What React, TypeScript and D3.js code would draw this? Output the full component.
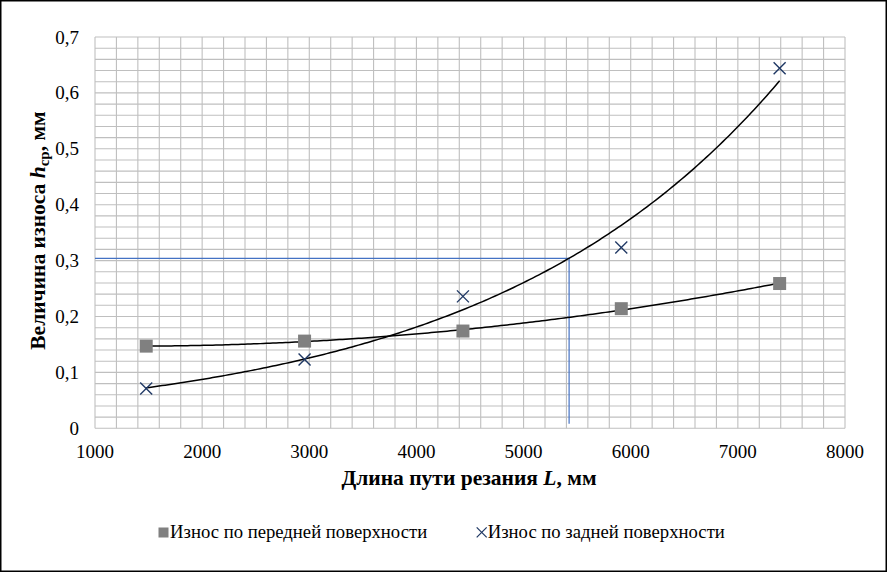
import React from "react";
import * as d3 from "d3";

const pathLengths = [1478, 2956, 4434, 5912, 7390];
const rakeWear = [0.147, 0.156, 0.174, 0.214, 0.259];
const flankWear = [0.071, 0.123, 0.236, 0.3235, 0.644];
const xTicks = [1000, 2000, 3000, 4000, 5000, 6000, 7000, 8000];
const yTicks = [0, 0.1, 0.2, 0.3, 0.4, 0.5, 0.6, 0.7];
const yTickLabels = ["0", "0,1", "0,2", "0,3", "0,4", "0,5", "0,6", "0,7"];
const refPoint = { x: 5425, y: 0.304 };
const legendLabels = ["Износ по передней поверхности", "Износ по задней поверхности"];

const W = 887;
const H = 573;
const M = { left: 95, right: 845, top: 37, bottom: 428.3 };
const FONT = "'Liberation Serif', 'Times New Roman', serif";

function expFit(xs: number[], ys: number[]) {
  const ly = ys.map((v) => Math.log(v));
  const mx = d3.mean(xs)!;
  const my = d3.mean(ly)!;
  let sxy = 0, sxx = 0;
  xs.forEach((x, i) => { sxy += (x - mx) * (ly[i] - my); sxx += (x - mx) ** 2; });
  const b = sxy / sxx;
  const a = Math.exp(my - b * mx);
  return (x: number) => a * Math.exp(b * x);
}

function polyFit2(xs: number[], ys: number[]) {
  const mx = d3.mean(xs)!;
  const sc = 1000;
  const t = xs.map((x) => (x - mx) / sc);
  const S = (p: number) => d3.sum(t, (v) => v ** p);
  const Sy = (p: number) => d3.sum(t, (v, i) => v ** p * ys[i]);
  const A = [
    [S(0), S(1), S(2)],
    [S(1), S(2), S(3)],
    [S(2), S(3), S(4)],
  ];
  const B = [Sy(0), Sy(1), Sy(2)];
  for (let i = 0; i < 3; i++) {
    for (let j = i + 1; j < 3; j++) {
      const f = A[j][i] / A[i][i];
      for (let k = i; k < 3; k++) A[j][k] -= f * A[i][k];
      B[j] -= f * B[i];
    }
  }
  const c = [0, 0, 0];
  for (let i = 2; i >= 0; i--) {
    let s = B[i];
    for (let k = i + 1; k < 3; k++) s -= A[i][k] * c[k];
    c[i] = s / A[i][i];
  }
  return (x: number) => {
    const u = (x - mx) / sc;
    return c[0] + c[1] * u + c[2] * u * u;
  };
}

export default function App() {
  const x = d3.scaleLinear().domain([1000, 8000]).range([M.left, M.right]);
  const y = d3.scaleLinear().domain([0, 0.7]).range([M.bottom, M.top]);

  const vGrid = d3.range(1000, 8000.1, 200);
  const hGrid = d3.range(0, 0.7001, 0.02);

  const fRake = polyFit2(pathLengths, rakeWear);
  const fFlank = expFit(pathLengths, flankWear);
  const samples = d3.range(0, 201).map((i) => pathLengths[0] + (i / 200) * (pathLengths[4] - pathLengths[0]));
  const line = d3.line<number[]>().x((d) => x(d[0])).y((d) => y(d[1]));
  const rakePath = line(samples.map((s) => [s, fRake(s)]))!;
  const flankPath = line(samples.map((s) => [s, fFlank(s)]))!;

  const cross = (cx: number, cy: number, r: number, key: string, sw = 1.4) => (
    <g key={key} stroke="#1f3864" strokeWidth={sw}>
      <line x1={cx - r} y1={cy - r} x2={cx + r} y2={cy + r} />
      <line x1={cx - r} y1={cy + r} x2={cx + r} y2={cy - r} />
    </g>
  );

  return (
    <svg width={W} height={H} style={{ position: "absolute", left: 0, top: 0, background: "#fff", fontFamily: FONT }}>
      <rect x={0.75} y={0.75} width={W - 1.5} height={H - 2.5} fill="#fff" stroke="#000" strokeWidth={1.5} />
      <g stroke="#bfbfbf" strokeWidth={1.1}>
        {vGrid.map((v) => (
          <line key={"v" + v} x1={x(v)} x2={x(v)} y1={M.top} y2={M.bottom} />
        ))}
        {hGrid.map((v, i) => (
          <line key={"h" + i} x1={M.left} x2={M.right} y1={y(v)} y2={y(v)} />
        ))}
      </g>
      <g stroke="#4472c4" strokeWidth={1.2} fill="none">
        <line x1={x(1000)} x2={x(refPoint.x)} y1={y(refPoint.y)} y2={y(refPoint.y)} />
        <line x1={x(refPoint.x)} x2={x(refPoint.x)} y1={y(refPoint.y)} y2={y(0.008)} />
      </g>
      <path d={rakePath} fill="none" stroke="#000" strokeWidth={1.5} />
      <path d={flankPath} fill="none" stroke="#000" strokeWidth={1.5} />
      {pathLengths.map((v, i) => (
        <rect key={"s" + i} x={x(v) - 6.5} y={y(rakeWear[i]) - 6.5} width={13} height={13} fill="#808080" />
      ))}
      {pathLengths.map((v, i) => cross(x(v), y(flankWear[i]), 6, "c" + i))}
      <g fontSize={19} fill="#000">
        {xTicks.map((v) => (
          <text key={"xt" + v} x={x(v)} y={458.3} textAnchor="middle">{v}</text>
        ))}
        {yTicks.map((v, i) => (
          <text key={"yt" + i} x={79} y={y(v) + 6.5} textAnchor="end">{yTickLabels[i]}</text>
        ))}
      </g>
      <text x={469} y={485} textAnchor="middle" fontSize={21.5} fontWeight="bold">
        Длина пути резания <tspan fontStyle="italic">L</tspan>, мм
      </text>
      <text transform="translate(44.5,230.5) rotate(-90)" textAnchor="middle" fontSize={21.5} fontWeight="bold">
        Величина износа <tspan fontStyle="italic">h</tspan>
        <tspan fontSize={15} dy={4.5}>ср</tspan>
        <tspan dy={-4.5}>, мм</tspan>
      </text>
      <rect x={158.5} y={527.5} width={10} height={10} fill="#808080" />
      <text x={170} y={538.3} fontSize={18.7}>{legendLabels[0]}</text>
      {cross(481.7, 532.3, 5, "lc", 1.2)}
      <text x={487.7} y={538.3} fontSize={18.7}>{legendLabels[1]}</text>
    </svg>
  );
}
